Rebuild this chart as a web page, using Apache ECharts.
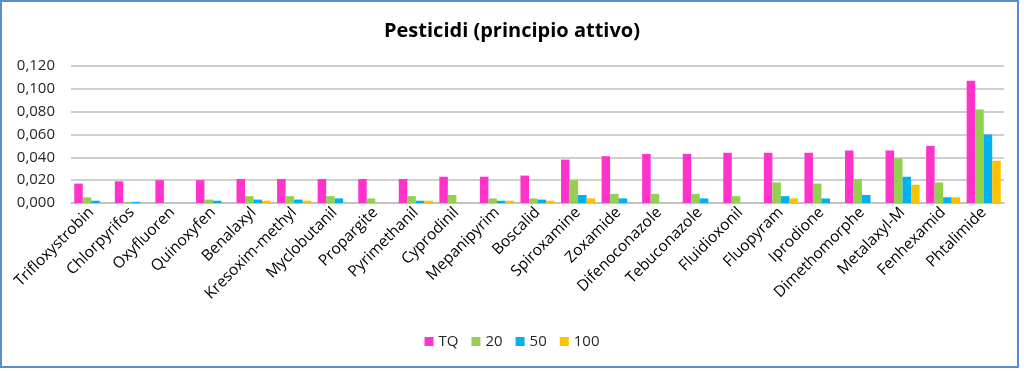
<!DOCTYPE html>
<html><head><meta charset="utf-8">
<script src="https://cdn.jsdelivr.net/npm/echarts@6/dist/echarts.min.js"></script>
<style>html,body{margin:0;padding:0;background:#fff}#c{width:1024px;height:371px}</style>
</head><body><div id="c"></div>
<script>
const categories = ["Trifloxystrobin","Chlorpyrifos","Oxyfluoren","Quinoxyfen","Benalaxyl","Kresoxim-methyl","Myclobutanil","Propargite","Pyrimethanil","Cyprodinil","Mepanipyrim","Boscalid","Spiroxamine","Zoxamide","Difenoconazole","Tebuconazole","Fluidioxonil","Fluopyram","Iprodione","Dimethomorphe","Metalaxyl-M","Fenhexamid","Phtalimide"];
const tq   = [0.017,0.019,0.020,0.020,0.021,0.021,0.021,0.021,0.021,0.023,0.023,0.024,0.038,0.041,0.043,0.043,0.044,0.044,0.044,0.046,0.046,0.050,0.107];
const s20  = [0.005,0.001,0,0.003,0.006,0.006,0.006,0.004,0.006,0.007,0.004,0.004,0.020,0.008,0.008,0.008,0.006,0.018,0.017,0.021,0.039,0.018,0.082];
const s50  = [0.002,0.001,0,0.002,0.003,0.003,0.004,0,0.002,0,0.002,0.003,0.007,0.004,0,0.004,0,0.006,0.004,0.007,0.023,0.005,0.060];
const s100 = [0,0,0,0,0.002,0.002,0,0,0.002,0,0.002,0.002,0.004,0,0,0,0,0.004,0,0,0.016,0.005,0.037];
const seriesNames = ["TQ","20","50","100"];
const colors = ["#FF33CC","#92D050","#00B0F0","#FFC000"];
const font = "'Open Sans', 'Liberation Sans', sans-serif";
const chart = echarts.init(document.getElementById('c'), null, {renderer:'canvas'});
const data = [tq, s20, s50, s100];
chart.setOption({
  animation:false,
  backgroundColor:'#fff',
  title:{text:'Pesticidi (principio attivo)',left:'center',top:16,
    textStyle:{fontFamily:font,fontSize:20,fontWeight:'bold',color:'#000'}},
  legend:{bottom:17,left:'center',itemWidth:9,itemHeight:9,itemGap:13,icon:'rect',
    textStyle:{fontFamily:font,fontSize:15,color:'#262626'},data:seriesNames},
  grid:{left:71,right:20,top:66,bottom:168,containLabel:false},
  xAxis:{type:'category',data:categories,
    axisLine:{lineStyle:{color:'#BFBFBF',width:1.5}},axisTick:{show:false},
    axisLabel:{rotate:45,interval:0,fontFamily:font,fontSize:15.5,color:'#000',margin:7}},
  yAxis:{type:'value',min:0,max:0.12,interval:0.02,
    axisLine:{show:false},axisTick:{show:false},
    splitLine:{lineStyle:{color:'#BFBFBF',width:1.5}},
    axisLabel:{fontFamily:font,fontSize:15,color:'#262626',margin:16,
      formatter:v=>v.toFixed(3).replace('.',',')}},
  series:data.map((d,i)=>({name:seriesNames[i],type:'bar',data:d,itemStyle:{color:colors[i]},
    barGap:'0%',barCategoryGap:'16%'})),
  graphic:[{type:'rect',shape:{x:1,y:1,width:1017,height:366},
    style:{fill:'none',stroke:'#5B8BD0',lineWidth:2},silent:true}]
});
</script></body></html>
